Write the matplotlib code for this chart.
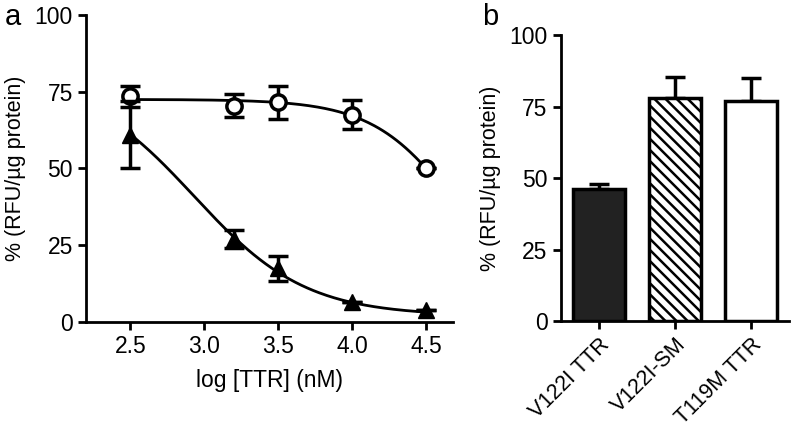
import matplotlib
matplotlib.use('Agg')
import matplotlib.pyplot as plt
import numpy as np

plt.rcParams['font.family'] = ['Liberation Sans', 'DejaVu Sans']
plt.rcParams['hatch.linewidth'] = 1.8

# Panel a: dose response, log [TTR] (nM)
log_ttr = [2.5, 3.2, 3.5, 4.0, 4.5]
circle_mean = [73.5, 70.5, 71.5, 67.5, 50.0]
circle_err = [3.5, 3.8, 5.3, 4.7, 0.0]
triangle_mean = [61.0, 27.0, 17.5, 6.5, 4.0]
triangle_err = [11.0, 3.0, 4.0, 0.0, 0.0]

# fitted 4-parameter logistic curves (top, bottom, logIC50, hill)
circle_fit = (72.5, 0.0, 4.73, 1.5)
triangle_fit = (80.0, 2.0, 2.93, 1.15)

# Panel b
bar_labels = ['V122I TTR', 'V122I-SM', 'T119M TTR']
bar_values = [46.0, 78.0, 77.0]
bar_err = [2.0, 7.5, 8.0]


def logistic(x, top, bottom, ic50, hill):
    return bottom + (top - bottom) / (1 + 10 ** ((x - ic50) * hill))


def style_axes(ax):
    for side in ['top', 'right']:
        ax.spines[side].set_visible(False)
    for side in ['left', 'bottom']:
        ax.spines[side].set_linewidth(2.0)
    ax.tick_params(width=2.0, length=6, labelsize=16.5, direction='out')


fig = plt.figure(figsize=(7.91, 4.28), dpi=100)

ax1 = fig.add_axes([0.1087, 0.2477, 0.4640, 0.7173])
style_axes(ax1)
xs = np.linspace(2.5, 4.5, 200)
ax1.plot(xs, logistic(xs, *circle_fit), color='black', lw=2.0, zorder=2)
ax1.plot(xs, logistic(xs, *triangle_fit), color='black', lw=2.0, zorder=2)
ax1.errorbar(log_ttr, circle_mean, yerr=circle_err, fmt='o', ms=11, mfc='white',
             mec='black', mew=2.5, ecolor='black', elinewidth=2.5, capsize=7,
             capthick=2.5, zorder=3)
ax1.errorbar(log_ttr, triangle_mean, yerr=triangle_err, fmt='^', ms=11, mfc='black',
             mec='black', ecolor='black', elinewidth=2.5, capsize=7,
             capthick=2.5, zorder=4)
ax1.set_xlim(2.2, 4.68)
ax1.set_ylim(0, 100)
ax1.set_xticks([2.5, 3.0, 3.5, 4.0, 4.5])
ax1.set_xticklabels(['2.5', '3.0', '3.5', '4.0', '4.5'])
ax1.set_yticks([0, 25, 50, 75, 100])
ax1.set_xlabel('log [TTR] (nM)', fontsize=16.5, labelpad=8)
ax1.set_ylabel('% (RFU/\u00b5g protein)', fontsize=15.5, labelpad=6)
fig.text(0.006, 0.96, 'a', fontsize=21, va='center')

ax2 = fig.add_axes([0.709, 0.25, 0.289, 0.668])
style_axes(ax2)
xpos = np.arange(len(bar_labels))
fills = ['#222222', 'white', 'white']
hatches = ['', '\\\\\\', '']
for x, v, e, fc, h in zip(xpos, bar_values, bar_err, fills, hatches):
    ax2.bar(x, v, width=0.68, color=fc, edgecolor='black', linewidth=2.5,
            hatch=h, zorder=2)
    ax2.errorbar(x, v, yerr=[[0], [e]], fmt='none', ecolor='black',
                 elinewidth=2.5, capsize=7, capthick=2.5, zorder=1)
ax2.set_xlim(-0.5, 2.5)
ax2.set_ylim(0, 100)
ax2.set_yticks([0, 25, 50, 75, 100])
ax2.set_xticks(xpos)
ax2.set_xticklabels(bar_labels, rotation=45, ha='right', rotation_mode='anchor',
                    fontsize=15.5)
ax2.set_ylabel('% (RFU/\u00b5g protein)', fontsize=15.5, labelpad=6)
fig.text(0.610, 0.96, 'b', fontsize=21, va='center')

fig.savefig('out.png', dpi=100)
